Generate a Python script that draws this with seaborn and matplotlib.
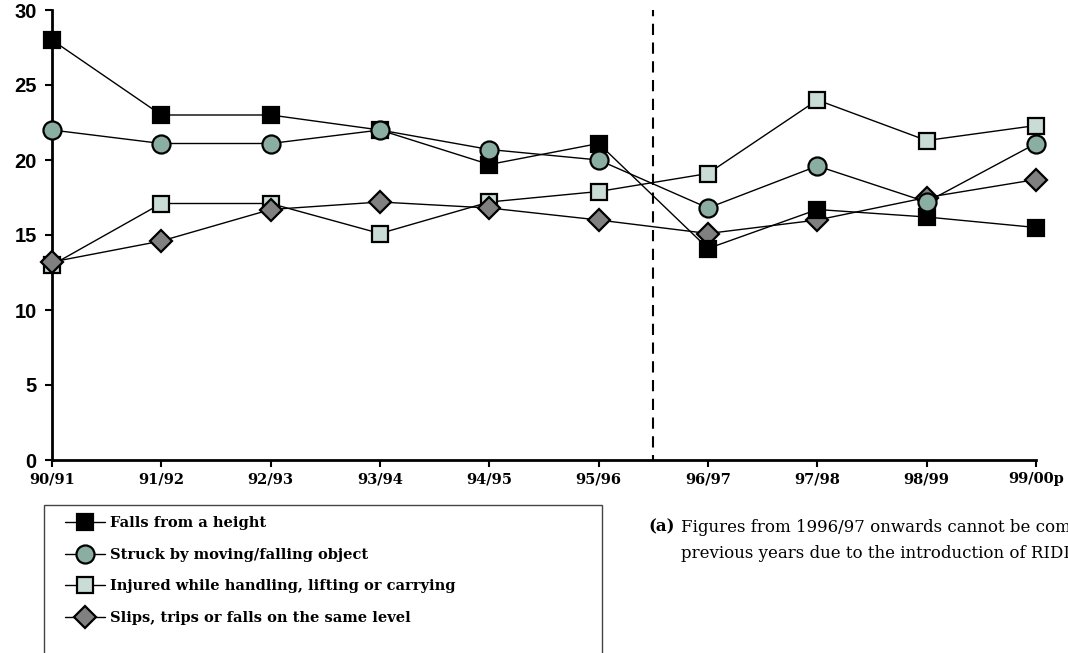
import matplotlib
matplotlib.use("Agg")
import matplotlib.pyplot as plt
import seaborn as sns
import pandas as pd
from matplotlib.patches import Rectangle

# Données
years = ["90/91", "91/92", "92/93", "93/94", "94/95", "95/96",
         "96/97", "97/98", "98/99", "99/00p"]
falls = [28.0, 23.0, 23.0, 22.0, 19.7, 21.1, 14.1, 16.7, 16.2, 15.5]
struck = [22.0, 21.1, 21.1, 22.0, 20.7, 20.0, 16.8, 19.6, 17.2, 21.1]
handling = [13.0, 17.1, 17.1, 15.1, 17.2, 17.9, 19.1, 24.0, 21.3, 22.3]
slips = [13.2, 14.6, 16.7, 17.2, 16.8, 16.0, 15.1, 16.0, 17.5, 18.7]

labels = ["Falls from a height",
          "Struck by moving/falling object",
          "Injured while handling, lifting or carrying",
          "Slips, trips or falls on the same level"]
series = [falls, struck, handling, slips]
markers = ["s", "o", "s", "D"]
fills = ["#000000", "#8aafa2", "#c9dcd5", "#808080"]
sizes = [11.5, 13, 11.5, 11]
zorders = [4, 5, 2, 3]

sns.set_style("white")
plt.rcParams.update({"text.color": "black", "xtick.color": "black",
                     "ytick.color": "black", "axes.labelcolor": "black"})
fig = plt.figure(figsize=(10.68, 6.53), dpi=100)
ax = fig.add_axes([52 / 1068, 1 - 460 / 653, (1036 - 52) / 1068, 450 / 653])

idx = list(range(len(years)))
for vals, lab, m, fc, ms, z in zip(series, labels, markers, fills, sizes, zorders):
    df = pd.DataFrame({"x": idx, "y": vals})
    sns.lineplot(data=df, x="x", y="y", ax=ax, color="black", linewidth=1,
                 marker=m, markersize=ms, markerfacecolor=fc,
                 markeredgecolor="black", markeredgewidth=1.6,
                 label=lab, zorder=z, clip_on=False)

# Ligne de rupture (RIDDOR)
ax.axvline(5.5, color="black", linestyle=(3, (5.4, 3.6)), linewidth=1.5, zorder=1)

ax.set_xlim(0, 9)
ax.set_ylim(0, 30)
ax.set_xticks(idx)
ax.set_xticklabels(years, fontfamily="DejaVu Serif", fontweight="bold", fontsize=10.5)
ax.set_yticks(range(0, 31, 5))
ax.set_yticklabels([str(v) for v in range(0, 31, 5)], fontfamily="Liberation Sans",
                   fontweight="bold", fontsize=14.5)
ax.set_xlabel("")
ax.set_ylabel("")
ax.tick_params(axis="x", direction="out", length=5, width=1.5, pad=4, bottom=True)
ax.tick_params(axis="y", direction="out", length=5, width=1.5, pad=6, left=True)
for s in ["top", "right"]:
    ax.spines[s].set_visible(False)
for s in ["left", "bottom"]:
    ax.spines[s].set_color("black")
    ax.spines[s].set_linewidth(2)

# Légende
handles, labs = ax.get_legend_handles_labels()
ax.get_legend().remove()
fig.patches.append(Rectangle((44 / 1068, -0.05), (602 - 44) / 1068, 0.05 + 1 - 505 / 653,
                             transform=fig.transFigure, fill=False,
                             edgecolor="#444444", linewidth=1))
fig.legend(handles, labs, loc="upper left", bbox_to_anchor=(52 / 1068, 1 - 503 / 653),
           frameon=False, prop={"family": "DejaVu Serif", "weight": "bold", "size": 10.5},
           handlelength=2.7, handletextpad=0.35, labelspacing=1.2)

# Note
fig.text(648 / 1068, 1 - 527 / 653, "(a)", fontfamily="DejaVu Serif",
         fontweight="bold", fontsize=12, va="center")
fig.text(681 / 1068, 1 - 527 / 653, "Figures from 1996/97 onwards cannot be compared with",
         fontfamily="DejaVu Serif", fontsize=12, va="center")
fig.text(681 / 1068, 1 - 553 / 653, "previous years due to the introduction of RIDDOR 95",
         fontfamily="DejaVu Serif", fontsize=12, va="center")

fig.savefig("out.png", dpi=100)
